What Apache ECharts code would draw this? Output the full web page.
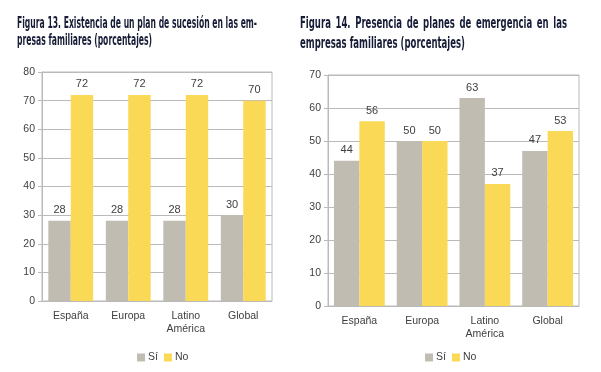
<!DOCTYPE html>
<html><head><meta charset="utf-8">
<script src="https://cdn.jsdelivr.net/npm/echarts@6/dist/echarts.min.js"></script>
<style>html,body{margin:0;padding:0;background:#fff}#c{width:601px;height:372px}</style>
</head><body><div id="c"></div>
<script>
const categories = ['España', 'Europa', 'Latino\nAmérica', 'Global'];
const si13 = [28, 28, 28, 30];
const no13 = [72, 72, 72, 70];
const si14 = [44, 50, 63, 47];
const no14 = [56, 50, 37, 53];
const seriesNames = ['Sí', 'No'];
const title13 = ['Figura 13. Existencia de un plan de sucesión en las em-', 'presas familiares (porcentajes)'];
const title14 = ['Figura 14. Presencia de planes de emergencia en las', 'empresas familiares (porcentajes)'];

const GRAY = '#C0BCB2', YELLOW = '#F9D955', TXT = '#404040', LINE = '#BABABA', TITLE = '#161C36';
const titleFont = 'bold 15px "DejaVu Sans Condensed", "DejaVu Sans"';
const cv = document.createElement('canvas').getContext('2d');
cv.font = titleFont;
const w = s => cv.measureText(s).width;

const graphics = [];
function addText(text, x, y, sx) {
  graphics.push({type: 'text', x: x, y: y, scaleX: sx,
    style: {text: text, font: titleFont, fill: TITLE, textVerticalAlign: 'middle'}});
}
const s13 = 240 / w(title13[0]);
addText(title13[0], 17, 24, s13);
addText(title13[1], 17, 41, s13);
const s14 = 165 / w(title14[1]);
const words = title14[0].split(' ');
const natural = words.reduce((a, t) => a + w(t) * s14, 0);
const gap = (267 - natural) / (words.length - 1);
let xx = 300;
words.forEach(t => { addText(t, xx, 24, s14); xx += w(t) * s14 + gap; });
addText(title14[1], 300, 44, s14);

const font = '"Liberation Sans", Arial, sans-serif';
function yAxis(idx, max) {
  return {type: 'value', gridIndex: idx, min: 0, max: max, interval: 10,
    axisLine: {show: true, lineStyle: {color: LINE}},
    axisTick: {show: true, length: 4, lineStyle: {color: LINE}},
    splitLine: {lineStyle: {color: LINE, width: 1}},
    axisLabel: {color: TXT, fontSize: 10.5, fontFamily: font, margin: 7}};
}
function xAxis(idx) {
  return {type: 'category', gridIndex: idx, data: categories,
    axisLine: {lineStyle: {color: LINE}},
    axisTick: {show: false},
    axisLabel: {color: TXT, fontSize: 10.5, fontFamily: font, margin: 9, lineHeight: 13}};
}
function bar(name, data, idx, color, gapPct) {
  return {type: 'bar', name: name, data: data, xAxisIndex: idx, yAxisIndex: idx,
    barGap: '0%', barCategoryGap: gapPct, itemStyle: {color: color},
    label: {show: true, position: 'top', distance: 5, color: TXT, fontSize: 11, fontFamily: font},
    animation: false};
}
function legend(left) {
  return {data: seriesNames, left: left, top: 347, itemWidth: 8, itemHeight: 8, itemGap: 6,
    icon: 'rect', textStyle: {color: TXT, fontSize: 10.5, fontFamily: font, padding: [0, 0, 0, -2]}};
}

const chart = echarts.init(document.getElementById('c'), null, {renderer: 'canvas'});
chart.setOption({
  animation: false,
  backgroundColor: '#fff',
  graphic: graphics,
  grid: [
    {left: 42, right: 329, top: 72, bottom: 71, show: true, borderColor: LINE, borderWidth: 1},
    {left: 328, right: 22, top: 75, bottom: 66, show: true, borderColor: LINE, borderWidth: 1}
  ],
  xAxis: [xAxis(0), xAxis(1)],
  yAxis: [yAxis(0, 80), yAxis(1, 70)],
  legend: [legend(132), legend(420)],
  series: [
    bar(seriesNames[0], si13, 0, GRAY, '22%'),
    bar(seriesNames[1], no13, 0, YELLOW, '22%'),
    bar(seriesNames[0], si14, 1, GRAY, '19%'),
    bar(seriesNames[1], no14, 1, YELLOW, '19%')
  ]
});
</script></body></html>
